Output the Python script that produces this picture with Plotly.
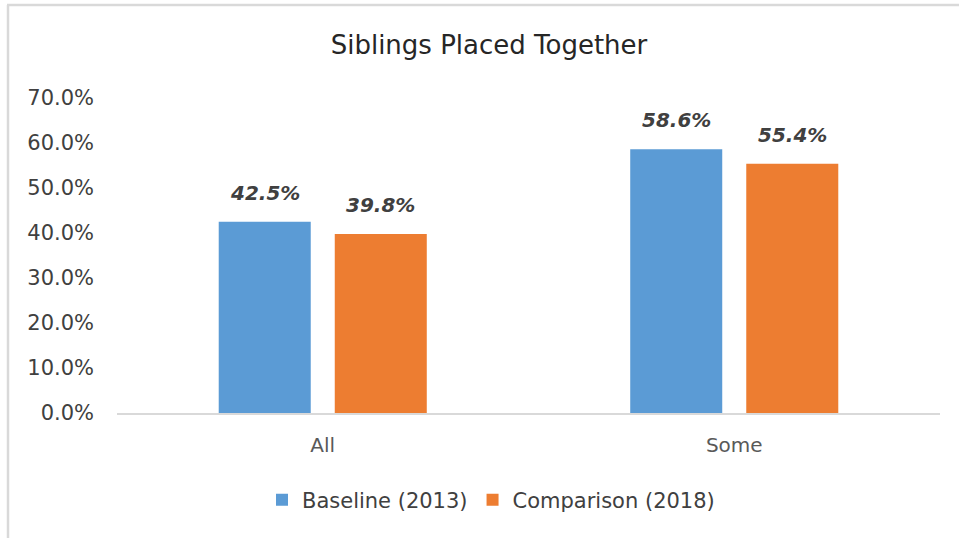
import plotly.graph_objects as go

# Share of sibling groups placed together, by placement type
categories = ["All", "Some"]
baseline_2013 = [42.5, 58.6]
comparison_2018 = [39.8, 55.4]
series_names = ["Baseline (2013)", "Comparison (2018)"]
tick_values = [0, 10, 20, 30, 40, 50, 60, 70]

BLUE = "#5B9BD5"
ORANGE = "#ED7D31"
FONT = "DejaVu Sans"

fig = go.Figure()
for name, values, color in [
    (series_names[0], baseline_2013, BLUE),
    (series_names[1], comparison_2018, ORANGE),
]:
    fig.add_trace(go.Bar(
        x=categories, y=values, name=name,
        marker=dict(color=color, line=dict(width=0)),
    ))

# Value labels above each bar (bold italic), offset to each bar's slot in the group
slot_shift = 58
for values, shift in [(baseline_2013, -slot_shift), (comparison_2018, slot_shift)]:
    for cat, v in zip(categories, values):
        fig.add_annotation(
            x=cat, y=v, xref="x", yref="y",
            text=f"<b><i>{v:.1f}%</i></b>",
            showarrow=False, xshift=shift, yshift=15,
            yanchor="bottom", xanchor="center",
            font=dict(family=FONT, size=20, color="#404040"),
        )

# Light gray frame around the chart (top and left edges)
L, R, T, B = 117, 19, 98, 125
W, H = 959, 538
pw, ph = W - L - R, H - T - B
def px_x(x):
    return (x - L) / pw
def px_y(y):
    return (H - B - y) / ph
frame = dict(color="#D9D9D9", width=2.5)
fig.add_shape(type="line", xref="paper", yref="paper",
              x0=px_x(7), x1=px_x(959), y0=px_y(5), y1=px_y(5), line=frame)
fig.add_shape(type="line", xref="paper", yref="paper",
              x0=px_x(8), x1=px_x(8), y0=px_y(5), y1=px_y(540), line=frame)

fig.update_layout(
    width=W, height=H,
    margin=dict(l=L, r=R, t=T, b=B),
    paper_bgcolor="white", plot_bgcolor="white",
    barmode="group", bargap=0.436, bargroupgap=0.207,
    font=dict(family=FONT, color="#404040"),
    title=dict(
        text="Siblings Placed Together",
        x=px_x(489), xref="paper", xanchor="center",
        y=1 - 45 / H, yref="container", yanchor="middle",
        font=dict(family=FONT, size=26, color="#262626"),
    ),
    legend=dict(
        orientation="h", x=px_x(491), xanchor="center",
        y=px_y(500), yanchor="middle",
        font=dict(family=FONT, size=21, color="#404040"),
        itemsizing="constant",
    ),
    xaxis=dict(
        showline=True, linecolor="#D9D9D9", linewidth=2,
        showgrid=False, ticks="", ticklabelstandoff=13,
        tickfont=dict(family=FONT, size=20, color="#595959"),
    ),
    yaxis=dict(
        range=[0, 70], tickvals=tick_values,
        ticktext=[f"{t:.1f}%" for t in tick_values],
        showgrid=False, showline=False, zeroline=False,
        ticks="", ticklabelstandoff=22,
        tickfont=dict(family=FONT, size=21, color="#404040"),
    ),
)

fig.write_html("out.html")
